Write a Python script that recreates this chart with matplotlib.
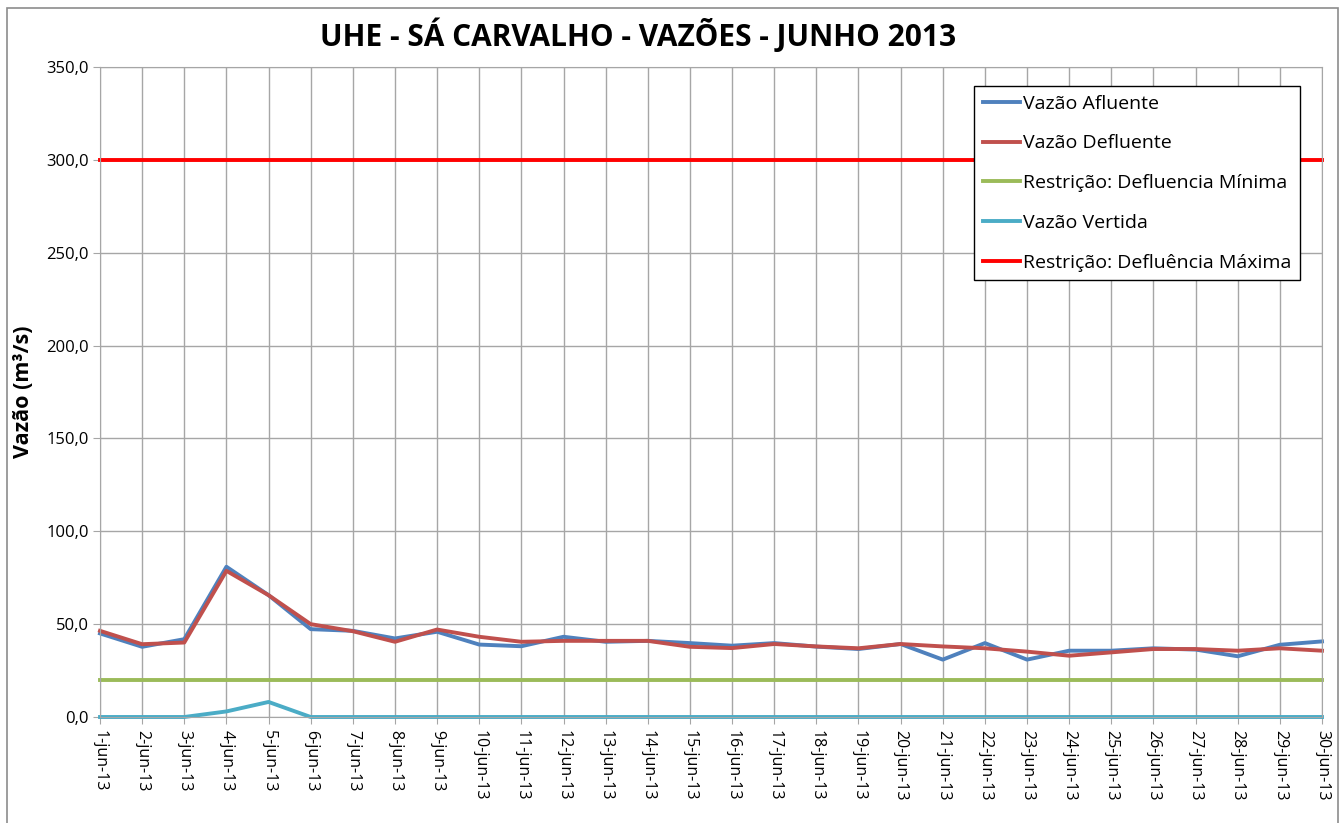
import numpy as np
import matplotlib
matplotlib.use("Agg")
from matplotlib import pyplot as plt
from matplotlib.patches import Rectangle

plt.rcParams['font.family'] = ['Open Sans', 'DejaVu Sans']

days = list(range(1, 31))
day_labels = [f"{d}-jun-13" for d in days]

vazao_afluente = [45.0, 37.8, 41.9, 80.9, 65.6, 47.3, 46.4, 42.3, 45.9, 39.0,
                  38.1, 43.2, 40.5, 41.0, 39.8, 38.4, 39.8, 37.9, 36.6, 39.3,
                  30.9, 39.8, 30.9, 35.7, 35.7, 37.0, 36.3, 32.7, 38.9, 40.7]
vazao_defluente = [46.4, 39.2, 40.1, 78.7, 65.6, 50.0, 46.2, 40.5, 47.1, 43.2,
                   40.5, 41.0, 41.0, 41.0, 37.8, 37.1, 39.3, 38.0, 37.0, 39.3,
                   38.0, 37.0, 35.2, 33.0, 34.8, 36.6, 36.6, 35.7, 37.0, 35.7]
defluencia_minima = [20.0] * 30
vazao_vertida = [0.0, 0.0, 0.0, 3.0, 8.1, 0.0, 0.0, 0.0, 0.0, 0.0,
                 0.0, 0.0, 0.0, 0.0, 0.0, 0.0, 0.0, 0.0, 0.0, 0.0,
                 0.0, 0.0, 0.0, 0.0, 0.0, 0.0, 0.0, 0.0, 0.0, 0.0]
defluencia_maxima = [300.0] * 30

y_ticks = [0, 50, 100, 150, 200, 250, 300, 350]

W, H = 1343, 823
fig = plt.figure(figsize=(W / 100, H / 100), dpi=100)
ax = fig.add_axes([100 / W, 1 - 717 / H, (1322 - 100) / W, (717 - 67) / H])

# outer chart border
fig.patches.append(Rectangle((7 / W, -0.01), (1338 - 7) / W, 1 - 8 / H + 0.01,
                             transform=fig.transFigure, fill=False,
                             edgecolor='#8c8c8c', linewidth=1.2))

lw = 2.8
ax.plot(days, vazao_afluente, color='#4F81BD', lw=lw, label='Vazão Afluente', clip_on=False)
ax.plot(days, vazao_defluente, color='#C0504D', lw=lw, label='Vazão Defluente', clip_on=False)
ax.plot(days, defluencia_minima, color='#9BBB59', lw=lw, label='Restrição: Defluencia Mínima', clip_on=False)
ax.plot(days, vazao_vertida, color='#4BACC6', lw=lw, label='Vazão Vertida', clip_on=False)
ax.plot(days, defluencia_maxima, color='#FF0000', lw=lw, label='Restrição: Defluência Máxima', clip_on=False)

ax.set_xlim(1, 30)
ax.set_ylim(0, 350)
ax.set_xticks(days)
ax.set_xticklabels(day_labels, rotation=270, fontsize=11.5)
ax.set_yticks(y_ticks)
ax.set_yticklabels([f"{v:.1f}".replace('.', ',') for v in y_ticks], fontsize=12)
ax.grid(True, color='#a6a6a6', linewidth=1)
ax.set_axisbelow(True)
for s in ax.spines.values():
    s.set_color('#a6a6a6')
ax.tick_params(axis='both', direction='out', length=5, color='#a6a6a6', pad=3)
ax.tick_params(axis='x', pad=4)

ax.set_ylabel('Vazão (m³/s)', fontsize=15.5, fontweight='bold')
ax.yaxis.set_label_coords(-66 / 1222, 0.5)

fig.text(638 / W, 1 - 36 / H, 'UHE - SÁ CARVALHO - VAZÕES - JUNHO 2013',
         ha='center', va='center', fontsize=21.5, fontweight='bold')

leg = ax.legend(loc='upper right', bbox_to_anchor=(0.982, 0.971), fontsize=14,
                frameon=True, fancybox=False, framealpha=1, edgecolor='black',
                handlelength=1.9, handletextpad=0.15, labelspacing=1.12,
                borderpad=0.45, borderaxespad=0)
leg.get_frame().set_linewidth(1.0)

fig.savefig('out.png', dpi=100)
